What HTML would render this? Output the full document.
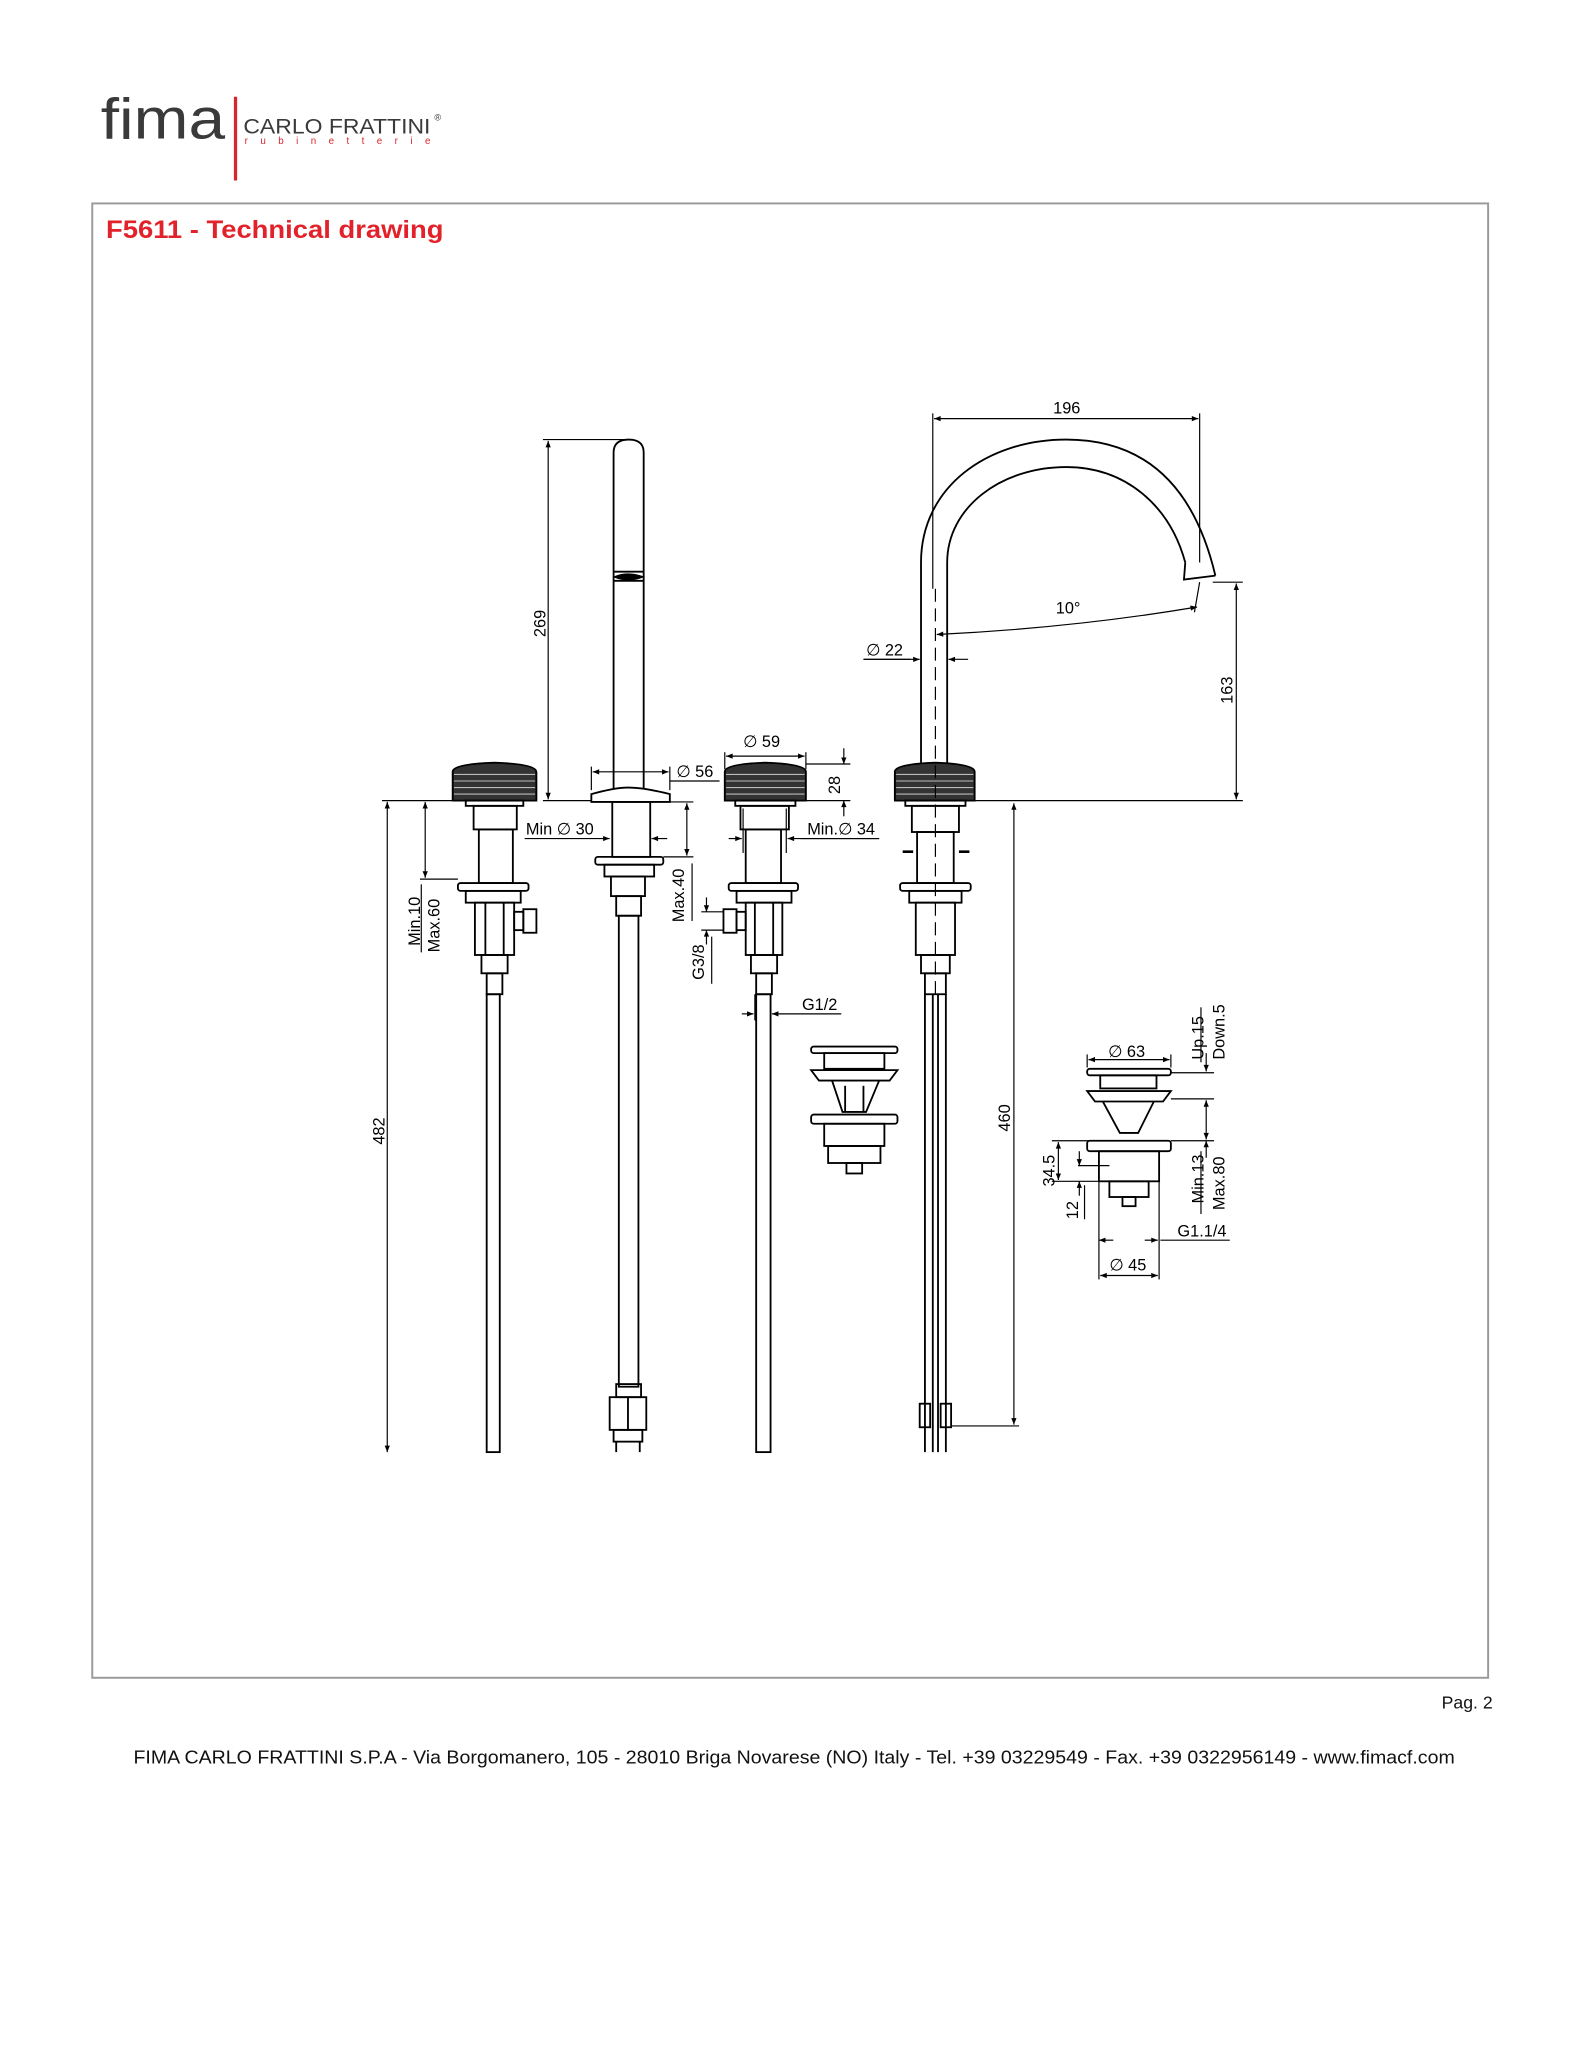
<!DOCTYPE html>
<html><head><meta charset="utf-8"><style>
html,body{margin:0;padding:0;background:#fff;}
svg{display:block;}
text{font-family:"Liberation Sans",Arial,sans-serif;}
</style></head><body>
<svg width="1583" height="2048" viewBox="0 0 1210 1565.5" xmlns="http://www.w3.org/2000/svg">
<defs>
<marker id="a" viewBox="0 0 10 10" refX="10" refY="5" markerWidth="7" markerHeight="5" orient="auto-start-reverse" markerUnits="userSpaceOnUse"><path d="M0,1 L10,5 L0,9 z" fill="#000"/></marker>
</defs>
<!-- logo -->
<text x="77" y="106" font-size="44" fill="#3a3a3a" textLength="95" lengthAdjust="spacingAndGlyphs">fima</text>
<line x1="180" y1="74" x2="180" y2="138" stroke="#d7262e" stroke-width="2.5"/>
<text x="186" y="102" font-size="16" fill="#3a3a3a" textLength="143" lengthAdjust="spacingAndGlyphs">CARLO FRATTINI</text>
<text x="332" y="92" font-size="7" fill="#3a3a3a">®</text>
<text x="187" y="110" font-size="7.5" fill="#d7262e" textLength="142">rubinetterie</text>
<!-- frame -->
<rect x="70.5" y="155.5" width="1067" height="1127" fill="none" stroke="#9a9a9a" stroke-width="1.5"/>
<text x="81" y="182" font-size="19" font-weight="bold" fill="#e2222b" textLength="258" lengthAdjust="spacingAndGlyphs">F5611 - Technical drawing</text>
<text x="1141" y="1306" font-size="13.5" fill="#111" text-anchor="end">Pag. 2</text>
<text x="102" y="1348" font-size="13.8" fill="#111" textLength="1010" lengthAdjust="spacingAndGlyphs">FIMA CARLO FRATTINI S.P.A - Via Borgomanero, 105 - 28010 Briga Novarese (NO) Italy - Tel. +39 03229549 - Fax. +39 0322956149 - www.fimacf.com</text>

<g fill="none" stroke="#000" stroke-width="1.4">
<!-- left handle -->
<path d="M346,612 V590 Q346,584 378,583 Q410,584 410,590 V612 Z" fill="#333"/>
<g stroke="#bbb" stroke-width="0.8"><line x1="347" y1="592" x2="409" y2="592"/><line x1="347" y1="597" x2="409" y2="597"/><line x1="347" y1="602" x2="409" y2="602"/><line x1="347" y1="607" x2="409" y2="607"/></g>
<rect x="356" y="612" width="44" height="4"/>
<rect x="362" y="616" width="33" height="18"/>
<rect x="366" y="634" width="26" height="41"/>
<rect x="350" y="675" width="54" height="6" rx="2"/>
<rect x="356" y="681" width="42" height="9"/>
<rect x="363" y="690" width="30" height="40"/>
<line x1="371" y1="690" x2="371" y2="730"/><line x1="385" y1="690" x2="385" y2="730"/>
<rect x="368" y="730" width="20" height="14"/>
<rect x="372" y="744" width="12" height="16"/>
<rect x="393" y="697" width="7" height="14"/><rect x="400" y="695" width="10" height="18"/>
<rect x="372" y="760" width="10" height="350"/>
<!-- center spout -->
<path d="M469,603 V346 Q469,336 480.5,336 Q492,336 492,346 V603"/>
<line x1="469" y1="437" x2="492" y2="437"/>
<path d="M470,441 Q480,437 491,441 Q480,445 470,441Z" fill="#000"/>
<line x1="469" y1="444" x2="492" y2="444"/>
<path d="M452,613 V607 Q470,602 480,602 Q492,602 512,607 V613 Z"/>
<rect x="468" y="613" width="29" height="42"/>
<rect x="455" y="655" width="52" height="6" rx="2"/>
<rect x="462" y="661" width="38" height="9"/>
<rect x="467" y="670" width="26" height="15"/>
<rect x="471" y="685" width="19" height="15"/>
<rect x="473" y="700" width="15" height="360"/>
<rect x="471" y="1058" width="19" height="10"/>
<rect x="466" y="1068" width="28" height="25"/>
<line x1="480" y1="1068" x2="480" y2="1093"/>
<rect x="469" y="1093" width="22" height="9"/>
<line x1="471" y1="1102" x2="471" y2="1110"/><line x1="489" y1="1102" x2="489" y2="1110"/>
<!-- right handle -->
<path d="M554,612 V590 Q554,584 585,583 Q616,584 616,590 V612 Z" fill="#333"/>
<g stroke="#bbb" stroke-width="0.8"><line x1="555" y1="592" x2="615" y2="592"/><line x1="555" y1="597" x2="615" y2="597"/><line x1="555" y1="602" x2="615" y2="602"/><line x1="555" y1="607" x2="615" y2="607"/></g>
<rect x="562" y="612" width="46" height="4"/>
<rect x="566" y="616" width="37" height="18"/>
<rect x="570" y="634" width="27" height="41"/>
<rect x="557" y="675" width="53" height="6" rx="2"/>
<rect x="563" y="681" width="42" height="9"/>
<rect x="570" y="690" width="28" height="40"/>
<line x1="577" y1="690" x2="577" y2="730"/><line x1="591" y1="690" x2="591" y2="730"/>
<rect x="574" y="730" width="20" height="14"/>
<rect x="578" y="744" width="12" height="16"/>
<rect x="563" y="697" width="7" height="14"/><rect x="553" y="695" width="10" height="18"/>
<rect x="578" y="760" width="11" height="350"/>
<!-- right gooseneck -->
<path d="M684,612 V590 Q684,584 715,583 Q745,584 745,590 V612 Z" fill="#333"/>
<g stroke="#bbb" stroke-width="0.8"><line x1="685" y1="592" x2="744" y2="592"/><line x1="685" y1="597" x2="744" y2="597"/><line x1="685" y1="602" x2="744" y2="602"/><line x1="685" y1="607" x2="744" y2="607"/></g>
<path d="M704,583 V430 C704,372 755,336 815,336 C872,336 912,368 929,440"/>
<path d="M724,583 V430 C724,388 765,357 815,357 C860,357 894,386 906,430"/>
<path d="M906,430 L905,443 L929,440"/>
<rect x="692" y="612" width="46" height="4"/>
<rect x="697" y="616" width="36" height="20"/>
<rect x="701" y="636" width="28" height="39"/>
<rect x="688" y="675" width="54" height="6" rx="2"/>
<path d="M690,651 H698 M733,651 H741" stroke-width="2"/>
<rect x="695" y="681" width="40" height="9"/>
<rect x="700" y="690" width="30" height="40"/>
<rect x="704" y="730" width="22" height="14"/>
<rect x="707" y="744" width="16" height="16"/>
<line x1="707" y1="760" x2="707" y2="1110"/><line x1="713" y1="760" x2="713" y2="1110"/>
<line x1="717" y1="760" x2="717" y2="1110"/><line x1="723" y1="760" x2="723" y2="1110"/>
<rect x="703" y="1073" width="8" height="18"/><rect x="719" y="1073" width="8" height="18"/>
<line x1="715" y1="450" x2="715" y2="760" stroke-width="0.9" stroke-dasharray="10,5"/>
<!-- left popup -->
<rect x="620" y="800" width="66" height="5" rx="2"/>
<rect x="630" y="805" width="46" height="12"/>
<path d="M620,818 H686 L680,826 H626 Z"/>
<path d="M636,826 L644,850 H662 L672,826"/>
<line x1="646" y1="830" x2="646" y2="850"/><line x1="660" y1="830" x2="660" y2="850"/>
<rect x="620" y="852" width="66" height="7" rx="2"/>
<rect x="630" y="859" width="46" height="17"/>
<rect x="633" y="876" width="40" height="13"/>
<rect x="647" y="889" width="12" height="8"/>
<!-- right popup -->
<rect x="831" y="817" width="64" height="5" rx="2"/>
<rect x="841" y="822" width="43" height="10"/>
<path d="M831,834 H895 L889,842 H837 Z"/>
<path d="M843,842 L856,866 H870 L882,842"/>
<rect x="831" y="872" width="64" height="8" rx="2"/>
<rect x="840" y="880" width="46" height="23"/>
<rect x="848" y="903" width="30" height="12"/>
<rect x="858" y="915" width="10" height="7"/>
</g>

<!-- dimensions -->
<g stroke="#000" stroke-width="0.9" fill="none">
<line x1="415" y1="336" x2="478" y2="336"/><line x1="415" y1="612" x2="452" y2="612"/>
<line x1="419" y1="337" x2="419" y2="611" marker-start="url(#a)" marker-end="url(#a)"/>
<line x1="292" y1="612" x2="346" y2="612"/>
<line x1="296" y1="613" x2="296" y2="1110" marker-start="url(#a)" marker-end="url(#a)"/>
<line x1="321" y1="672" x2="350" y2="672"/>
<line x1="325" y1="613" x2="325" y2="671" marker-start="url(#a)" marker-end="url(#a)"/>
<line x1="322" y1="676" x2="322" y2="728"/>
<line x1="401" y1="641" x2="466" y2="641" marker-end="url(#a)"/>
<line x1="510" y1="641" x2="498" y2="641" marker-end="url(#a)"/>
<line x1="452" y1="586" x2="452" y2="604"/><line x1="512" y1="586" x2="512" y2="604"/>
<line x1="453" y1="590" x2="511" y2="590" marker-start="url(#a)" marker-end="url(#a)"/>
<line x1="512" y1="597" x2="550" y2="597"/>
<line x1="512" y1="613" x2="530" y2="613"/><line x1="507" y1="655" x2="530" y2="655"/>
<line x1="525" y1="614" x2="525" y2="654" marker-start="url(#a)" marker-end="url(#a)"/>
<line x1="529" y1="660" x2="529" y2="704"/>
<line x1="554" y1="575" x2="554" y2="588"/><line x1="616" y1="575" x2="616" y2="588"/>
<line x1="555" y1="578" x2="615" y2="578" marker-start="url(#a)" marker-end="url(#a)"/>
<line x1="616" y1="584" x2="650" y2="584"/><line x1="616" y1="612" x2="650" y2="612"/>
<line x1="645" y1="572" x2="645" y2="584" marker-end="url(#a)"/>
<line x1="645" y1="624" x2="645" y2="612" marker-end="url(#a)"/>
<line x1="568" y1="618" x2="568" y2="652"/><line x1="601" y1="618" x2="601" y2="652"/>
<line x1="557" y1="641" x2="567" y2="641" marker-end="url(#a)"/>
<line x1="672" y1="641" x2="602" y2="641" marker-end="url(#a)"/>
<line x1="536" y1="697" x2="553" y2="697"/><line x1="536" y1="711" x2="553" y2="711"/>
<line x1="540" y1="686" x2="540" y2="697" marker-end="url(#a)"/>
<line x1="540" y1="722" x2="540" y2="711" marker-end="url(#a)"/>
<line x1="544" y1="716" x2="544" y2="752"/>
<line x1="577" y1="760" x2="577" y2="780"/><line x1="589" y1="760" x2="589" y2="780"/>
<line x1="567" y1="775" x2="576" y2="775" marker-end="url(#a)"/>
<line x1="643" y1="775" x2="590" y2="775" marker-end="url(#a)"/>
<line x1="713" y1="316" x2="713" y2="450"/><line x1="917" y1="316" x2="917" y2="430"/>
<line x1="714" y1="320" x2="916" y2="320" marker-start="url(#a)" marker-end="url(#a)"/>
<path d="M716,485 Q820,480 915,464" marker-start="url(#a)" marker-end="url(#a)"/>
<line x1="917" y1="445" x2="913" y2="468"/>
<line x1="660" y1="504" x2="703" y2="504" marker-end="url(#a)"/>
<line x1="740" y1="504" x2="725" y2="504" marker-end="url(#a)"/>
<line x1="927" y1="445" x2="950" y2="445"/><line x1="745" y1="612" x2="950" y2="612"/>
<line x1="945" y1="446" x2="945" y2="611" marker-start="url(#a)" marker-end="url(#a)"/>
<line x1="727" y1="1090" x2="779" y2="1090"/>
<line x1="775" y1="614" x2="775" y2="1089" marker-start="url(#a)" marker-end="url(#a)"/>
<line x1="831" y1="806" x2="831" y2="816"/><line x1="895" y1="806" x2="895" y2="816"/>
<line x1="832" y1="810" x2="894" y2="810" marker-start="url(#a)" marker-end="url(#a)"/>
<line x1="895" y1="820" x2="928" y2="820"/><line x1="895" y1="840" x2="928" y2="840"/><line x1="895" y1="872" x2="928" y2="872"/>
<line x1="922" y1="805" x2="922" y2="819" marker-end="url(#a)"/>
<line x1="922" y1="841" x2="922" y2="871" marker-start="url(#a)" marker-end="url(#a)"/>
<line x1="922" y1="873" x2="922" y2="886" marker-end="url(#a)" transform="rotate(180 922 879)"/>
<line x1="918" y1="812" x2="918" y2="770"/>
<line x1="918" y1="928" x2="918" y2="880"/>
<line x1="804" y1="872" x2="832" y2="872"/><line x1="804" y1="903" x2="840" y2="903"/><line x1="824" y1="891" x2="848" y2="891"/>
<line x1="809" y1="873" x2="809" y2="902" marker-start="url(#a)" marker-end="url(#a)"/>
<line x1="825" y1="880" x2="825" y2="891" marker-end="url(#a)"/>
<line x1="825" y1="914" x2="825" y2="903" marker-end="url(#a)"/>
<line x1="829" y1="906" x2="829" y2="932"/>
<line x1="840" y1="903" x2="840" y2="978"/><line x1="886" y1="903" x2="886" y2="978"/>
<line x1="841" y1="948" x2="852" y2="948" marker-end="url(#a)" transform="rotate(180 846 948)"/>
<line x1="940" y1="948" x2="887" y2="948"/>
<line x1="875" y1="948" x2="885" y2="948" marker-end="url(#a)"/>
<line x1="841" y1="975" x2="885" y2="975" marker-start="url(#a)" marker-end="url(#a)"/>
<line x1="660" y1="504" x2="696" y2="504"/>
<line x1="612" y1="641" x2="672" y2="641"/>
</g>

<g font-size="12.5" fill="#000">
<text x="0" y="0" transform="translate(417,487) rotate(-90)">269</text>
<text x="0" y="0" transform="translate(294,875) rotate(-90)">482</text>
<text x="0" y="0" transform="translate(321,723) rotate(-90)">Min.10</text>
<text x="0" y="0" transform="translate(336,728) rotate(-90)">Max.60</text>
<text x="402" y="638">Min ∅ 30</text>
<text x="517" y="594">∅ 56</text>
<text x="0" y="0" transform="translate(523,705) rotate(-90)">Max.40</text>
<text x="568" y="571">∅ 59</text>
<text x="0" y="0" transform="translate(642,607) rotate(-90)">28</text>
<text x="617" y="638">Min.∅ 34</text>
<text x="0" y="0" transform="translate(538,749) rotate(-90)">G3/8</text>
<text x="613" y="772">G1/2</text>
<text x="805" y="316">196</text>
<text x="807" y="469">10°</text>
<text x="662" y="501">∅ 22</text>
<text x="0" y="0" transform="translate(942,538) rotate(-90)">163</text>
<text x="0" y="0" transform="translate(772,865) rotate(-90)">460</text>
<text x="847" y="808">∅ 63</text>
<text x="0" y="0" transform="translate(920,810) rotate(-90)">Up.15</text>
<text x="0" y="0" transform="translate(936,810) rotate(-90)">Down.5</text>
<text x="0" y="0" transform="translate(920,920) rotate(-90)">Min.13</text>
<text x="0" y="0" transform="translate(936,925) rotate(-90)">Max.80</text>
<text x="0" y="0" transform="translate(806,907) rotate(-90)">34.5</text>
<text x="0" y="0" transform="translate(824,932) rotate(-90)">12</text>
<text x="900" y="945">G1.1/4</text>
<text x="848" y="971">∅ 45</text>
</g>
</svg>
</body></html>
